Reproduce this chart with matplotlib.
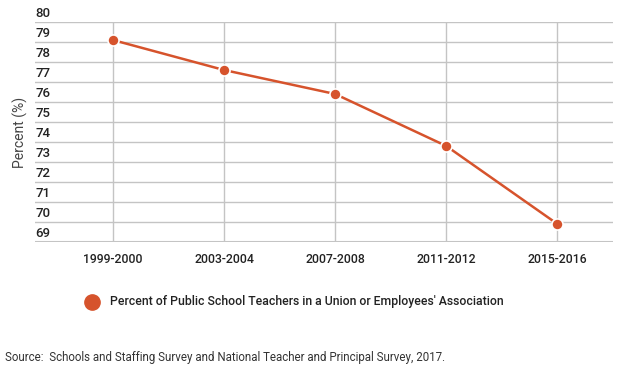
import matplotlib.pyplot as plt
import numpy as np

plt.rcParams['font.family'] = ['Roboto', 'DejaVu Sans']

years = ["1999-2000", "2003-2004", "2007-2008", "2011-2012", "2015-2016"]
percent = [79.1, 77.6, 76.4, 73.8, 69.9]
yticks = list(range(69, 81))
series_name = "Percent of Public School Teachers in a Union or Employees' Association"
source = "Source:  Schools and Staffing Survey and National Teacher and Principal Survey, 2017."

color = '#d6532c'
grid = '#c4c4c4'

fig = plt.figure(figsize=(6.4, 3.69), dpi=100)
W, H = 640, 369
ax = fig.add_axes([35 / W, (H - 242) / H, (613 - 35) / W, 220 / H])

x = np.arange(len(years))
ax.plot(x, percent, color=color, lw=1.8, marker='o', ms=8,
        mfc=color, mec='white', mew=1.2, zorder=3, clip_on=False)

ax.set_xlim(-0.70, 4.5)
ax.set_ylim(69, 80)
ax.set_yticks(yticks)
ax.set_xticks(x)
ax.set_xticklabels(years, fontsize=8.8, color='#222222', weight='medium')
ax.tick_params(axis='x', length=0, pad=8)
ax.tick_params(axis='y', length=0, labelleft=False)
ax.grid(True, color=grid, lw=1)
for s in ax.spines.values():
    s.set_visible(False)
ax.axhline(69, color=grid, lw=1.5)

for v in yticks:
    ax.text(0, v + 0.12, str(v), transform=ax.get_yaxis_transform(),
            ha='left', va='bottom', fontsize=9.5, color='#222222', weight='medium')

fig.text(20 / W, 1 - 132 / H, "Percent (%)", rotation=90, ha='center',
         va='center', fontsize=10, color='#444444')

# legend
fig.lines.append(plt.Line2D([92 / W], [1 - 302 / H], transform=fig.transFigure,
                            marker='o', ms=11, color=color, ls='none'))
fig.text(110 / W, 1 - 302 / H, series_name, ha='left', va='center',
         fontsize=8.8, color='#222222', weight='medium')

fig.text(5 / W, 1 - 357 / H, source, ha='left', va='center',
         fontsize=8.3, color='#333333')

fig.savefig('out.png', dpi=100)
